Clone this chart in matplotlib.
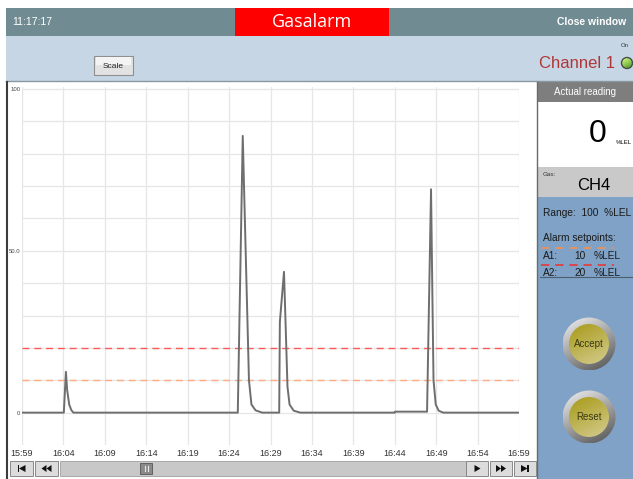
import numpy as np
import matplotlib
matplotlib.use("Agg")
from matplotlib import pyplot as plt
from matplotlib.patches import Rectangle, Circle, Polygon
from matplotlib.colors import LinearSegmentedColormap

plt.rcParams['font.family'] = ['Liberation Sans', 'DejaVu Sans']

# gas reading, minutes after 15:59 and %LEL
minutes = [0, 5.05, 5.3, 5.45, 5.7, 5.95, 6.2, 26.05, 26.65, 27.1, 27.4, 27.7, 28.2, 29.0,
           31.05, 31.13, 31.63, 31.85, 32.05, 32.3, 32.8, 33.6, 45.0, 45.05, 48.9, 49.38,
           49.55, 49.68, 49.95, 50.3, 50.85, 60]
reading = [0, 0, 12.6, 7, 2.5, 0.8, 0, 0, 85.5, 40, 10, 2.5, 0.7, 0,
           0, 28, 43.5, 25, 8, 2.5, 0.6, 0, 0, 0.3, 0.3, 69,
           35, 10, 2.5, 0.6, 0, 0]
tick_min = [0, 5, 10, 15, 20, 25, 30, 35, 40, 45, 50, 55, 60]
tick_lbl = ["15:59", "16:04", "16:09", "16:14", "16:19", "16:24", "16:29",
            "16:34", "16:39", "16:44", "16:49", "16:54", "16:59"]
alarm_a1 = 10
alarm_a2 = 20

W, H = 633, 479
fig = plt.figure(figsize=(W / 100, H / 100), dpi=100)
fig.patch.set_facecolor("white")

bg = fig.add_axes([0, 0, 1, 1])
bg.set_xlim(0, W)
bg.set_ylim(H, 0)
bg.axis("off")


def box(x, y, w, h, fc, ec="none", lw=0, z=1):
    bg.add_patch(Rectangle((x, y), w, h, fc=fc, ec=ec, lw=lw, zorder=z))


def grad_circle(cx, cy, r, c1, c2, z=3):
    g = np.linspace(0, 1, 64)
    arr = (g[None, :] * 0.35 + g[:, None] * 0.65)
    cm = LinearSegmentedColormap.from_list("g", [c1, c2])
    im = bg.imshow(arr, cmap=cm, extent=[cx - r, cx + r, cy + r, cy - r], zorder=z, aspect="auto")
    clip = Circle((cx, cy), r, transform=bg.transData)
    im.set_clip_path(clip)


# top bar
box(6, 8, 627, 28, "#718b93")
box(235, 8, 154, 28, "#ff0000", z=2)
bg.text(312, 22, "Gasalarm", color="white", fontsize=13, ha="center", va="center", zorder=3,
        family=["Open Sans", "DejaVu Sans"])
bg.text(12, 22, "11:17:17", color="white", fontsize=7.5, ha="left", va="center")
bg.text(626, 22, "Close window", color="white", fontsize=7.5, ha="right", va="center", weight="bold")

# light blue band
box(6, 36, 627, 45, "#c6d6e5")
bg.plot([6, 633], [81, 81], color="#8a96a0", lw=1, zorder=2)
box(94, 56, 39, 19, "#e2e2e2", ec="#8f8f8f", lw=0.8, z=2)
box(96, 57, 35, 8, "#f4f4f4", z=3)
bg.text(113.5, 66, "Scale", fontsize=6, ha="center", va="center", color="#222222", zorder=4)
bg.text(615, 63, "Channel 1", color="#b23636", fontsize=12, ha="right", va="center")
bg.text(625, 45, "On", color="#333333", fontsize=4.3, ha="center", va="center")
grad_circle(627, 63, 5.5, "#d8ff80", "#3d8a20", z=3)
bg.add_patch(Circle((627, 63), 5.5, fc="none", ec="#4a4a4a", lw=1, zorder=4))

# chart panel
box(7, 82, 530, 397, "white")
bg.plot([7, 7], [82, 479], color="#3c3c3c", lw=1.5, zorder=2)

# right panel
box(537, 82, 96, 20, "#7e7e7e")
box(537, 102, 96, 65, "white")
box(537, 167, 96, 30, "#c9c9c9")
box(537, 197, 96, 282, "#7fa2c6")
bg.plot([537, 537], [82, 479], color="#6a6a6a", lw=1, zorder=2)
bg.text(585, 92, "Actual reading", color="white", fontsize=7, ha="center", va="center")
bg.text(598, 134, "0", fontsize=23, ha="center", va="center")
bg.text(616, 142, "%LEL", fontsize=4.3, ha="left", va="center")
bg.text(543, 174, "Gas:", fontsize=4.5, ha="left", va="center", color="#333333")
bg.text(594, 186, "CH4", fontsize=12, ha="center", va="center")
txt = dict(fontsize=7.3, va="center", color="#1a1a1a")
bg.text(543, 213, "Range:  100  %LEL", ha="left", **txt)
bg.text(543, 238, "Alarm setpoints:", ha="left", **txt)
bg.plot([541, 614], [248, 248], color="#f09050", lw=1.2, ls=(0, (5, 3.5)), zorder=3)
bg.text(543, 256, "A1:", ha="left", **txt)
bg.text(586, 256, str(alarm_a1), ha="right", **txt)
bg.text(594, 256, "%LEL", ha="left", **txt)
bg.plot([541, 614], [265, 265], color="#e83838", lw=1.2, ls=(0, (5, 3.5)), zorder=3)
bg.text(543, 273, "A2:", ha="left", **txt)
bg.text(586, 273, str(alarm_a2), ha="right", **txt)
bg.text(594, 273, "%LEL", ha="left", **txt)
bg.plot([540, 633], [277, 277], color="#4e5e70", lw=0.8, zorder=3)

for cy, lbl in [(344, "Accept"), (417, "Reset")]:
    grad_circle(589, cy, 26.5, "#f2f2f2", "#505050")
    grad_circle(589, cy, 20, "#a89a18", "#d4cc90", z=4)
    bg.text(589, cy, lbl, fontsize=7, ha="center", va="center", color="#3a3a10", zorder=5)

# bottom navigation
box(60, 461, 406, 15, "#c8c8c8", ec="#a0a0a0", lw=0.6, z=2)
box(140, 463, 12, 11, "#8a8a8a", ec="#555555", lw=0.6, z=3)
bg.plot([144.5, 144.5], [466, 471], color="#e8e8e8", lw=0.8, zorder=4)
bg.plot([147.5, 147.5], [466, 471], color="#e8e8e8", lw=0.8, zorder=4)
navs = [(10, 23, "first"), (35, 23, "rew"), (466, 22, "play"), (490, 22, "ff"), (514, 22, "last")]
for x0, w, kind in navs:
    box(x0, 461, w, 15, "#dcdcdc", ec="#888888", lw=0.7, z=2)
    cx, cy = x0 + w / 2, 468.5
    tri = []
    if kind == "first":
        box(cx - 4, cy - 3.5, 1.6, 7, "#111111", z=3)
        tri = [[(cx + 4, cy - 3.5), (cx + 4, cy + 3.5), (cx - 2.5, cy)]]
    elif kind == "rew":
        tri = [[(cx, cy - 3.5), (cx, cy + 3.5), (cx - 5, cy)], [(cx + 5, cy - 3.5), (cx + 5, cy + 3.5), (cx, cy)]]
    elif kind == "play":
        tri = [[(cx - 2.5, cy - 3.5), (cx - 2.5, cy + 3.5), (cx + 3.5, cy)]]
    elif kind == "ff":
        tri = [[(cx - 5, cy - 3.5), (cx - 5, cy + 3.5), (cx, cy)], [(cx, cy - 3.5), (cx, cy + 3.5), (cx + 5, cy)]]
    else:
        box(cx + 2.4, cy - 3.5, 1.6, 7, "#111111", z=3)
        tri = [[(cx - 4, cy - 3.5), (cx - 4, cy + 3.5), (cx + 2.5, cy)]]
    for t in tri:
        bg.add_patch(Polygon(t, closed=True, fc="#111111", ec="none", zorder=3))

# trend plot
ax = fig.add_axes([22 / W, 1 - 445 / H, 497 / W, 358 / H])
ax.set_facecolor("none")
ax.set_xlim(0, 60)
ax.set_ylim(-10, 100.6)
ax.set_xticks(tick_min)
ax.set_xticklabels(tick_lbl, fontsize=6.5, color="#333333")
yt = list(range(0, 101, 10))
ax.set_yticks(yt)
ax.set_yticklabels(["0", "", "", "", "", "50.0", "", "", "", "", "100"], fontsize=4.3, color="#444444")
ax.tick_params(axis="y", length=0, pad=1)
ax.tick_params(axis="x", length=0, pad=3)
ax.grid(True, color="#e6e6e6", lw=0.9)
for s in ax.spines.values():
    s.set_visible(False)
ax.axhline(alarm_a2, color="#ff5a5a", lw=1, ls=(0, (5, 3.5)), zorder=3)
ax.axhline(alarm_a1, color="#ffaa80", lw=1, ls=(0, (5, 3.5)), zorder=3)
ax.plot(minutes, reading, color="#6e6e6e", lw=1.4, zorder=4)

fig.savefig("out.png", dpi=100)
